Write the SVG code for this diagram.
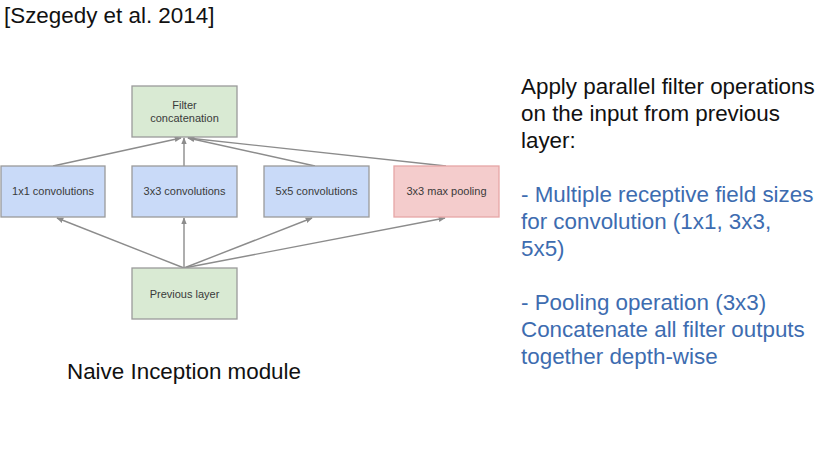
<svg xmlns="http://www.w3.org/2000/svg" width="834" height="465" viewBox="0 0 834 465">
<defs>
<style>
.box{stroke:#9a9a9a;stroke-width:1.3}
.g{fill:#d9ead3}
.b{fill:#c9daf8}
.r{fill:#f4cccc;stroke:#e6a6a6}
.lbl{font-family:"Liberation Sans",Arial,sans-serif;font-size:11px;fill:#3a3a3a;text-anchor:middle}
.big{font-family:"Liberation Sans",Arial,sans-serif;font-size:22.4px;fill:#111}
.blue{fill:#3d6cb0}
.conn line{stroke:#8c8c8c;stroke-width:1.4;marker-end:url(#ah)}
</style>
<marker id="ah" viewBox="0 0 10 10" refX="9" refY="5" markerWidth="5" markerHeight="5" orient="auto">
<path d="M0,1 L10,5 L0,9 z" fill="#8c8c8c"/>
</marker>
</defs>
<rect width="834" height="465" fill="#fff"/>
<text class="big" x="4" y="23">[Szegedy et al. 2014]</text>

<g class="conn" id="connectors">
<line x1="53" y1="166" x2="181" y2="138"/>
<line x1="184" y1="166" x2="184" y2="138"/>
<line x1="315" y1="166" x2="188" y2="138"/>
<line x1="446" y1="166" x2="188" y2="138"/>
<line x1="184" y1="268" x2="57" y2="218"/>
<line x1="184" y1="268" x2="184" y2="218"/>
<line x1="184" y1="268" x2="312" y2="218"/>
<line x1="184" y1="268" x2="445" y2="218"/>
</g>

<g id="concat">
<rect class="box g" x="132" y="86" width="105" height="51"/>
<text class="lbl" x="184.5" y="109">Filter</text>
<text class="lbl" x="184.5" y="122">concatenation</text>
</g>
<g id="conv1">
<rect class="box b" x="1" y="166" width="104" height="51"/>
<text class="lbl" x="53" y="195">1x1 convolutions</text>
</g>
<g id="conv3">
<rect class="box b" x="132" y="166" width="105" height="51"/>
<text class="lbl" x="184.5" y="195">3x3 convolutions</text>
</g>
<g id="conv5">
<rect class="box b" x="264" y="166" width="105" height="51"/>
<text class="lbl" x="316.5" y="195">5x5 convolutions</text>
</g>
<g id="pool">
<rect class="box r" x="394" y="166" width="105" height="51"/>
<text class="lbl" x="446.5" y="195">3x3 max pooling</text>
</g>
<g id="prev">
<rect class="box g" x="132" y="268" width="105" height="51"/>
<text class="lbl" x="184.5" y="298">Previous layer</text>
</g>

<text class="big" x="67" y="379">Naive Inception module</text>

<g id="notes">
<text class="big" x="521" y="94">Apply parallel filter operations</text>
<text class="big" x="521" y="121">on the input from previous</text>
<text class="big" x="521" y="148">layer:</text>
<text class="big blue" x="521" y="202">- Multiple receptive field sizes</text>
<text class="big blue" x="521" y="229">for convolution (1x1, 3x3,</text>
<text class="big blue" x="521" y="256">5x5)</text>
<text class="big blue" x="521" y="310">- Pooling operation (3x3)</text>
<text class="big blue" x="521" y="337">Concatenate all filter outputs</text>
<text class="big blue" x="521" y="364">together depth-wise</text>
</g>
</svg>
